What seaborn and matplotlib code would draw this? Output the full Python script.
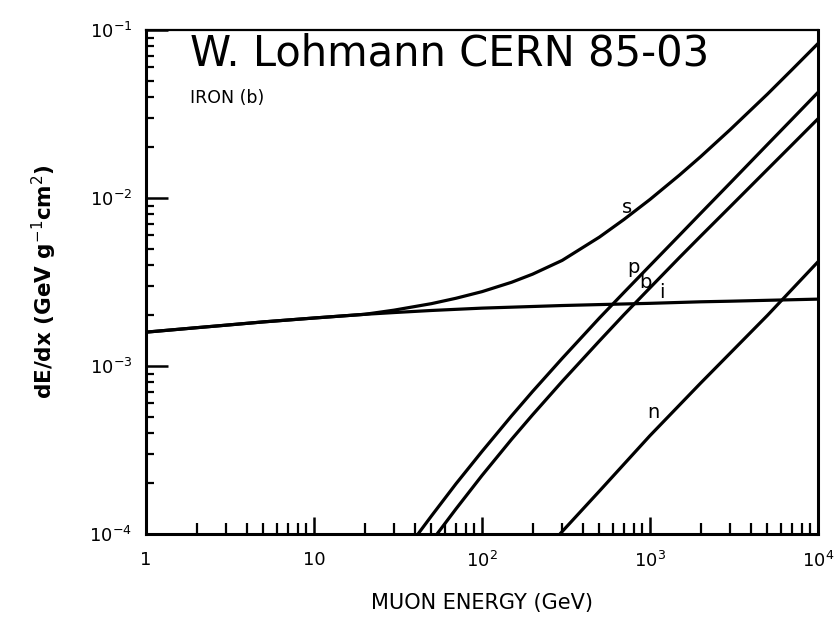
import numpy as np
import pandas as pd
import matplotlib
matplotlib.use("Agg")
import matplotlib.pyplot as plt
import seaborn as sns
from matplotlib.ticker import LogLocator, FixedLocator, FixedFormatter, NullFormatter

# Muon energy-loss components in iron (GeV g^-1 cm^2) versus muon energy (GeV)
ion_E = [1, 2, 3, 5, 10, 20, 30, 50, 100, 200, 300, 500, 1000, 2000, 3000, 5000, 10000]
ion_dEdx = [1.59e-3, 1.69e-3, 1.75e-3, 1.83e-3, 1.93e-3, 2.03e-3, 2.08e-3, 2.14e-3,
            2.21e-3, 2.26e-3, 2.29e-3, 2.32e-3, 2.36e-3, 2.41e-3, 2.43e-3, 2.46e-3, 2.50e-3]

tot_E = [1, 2, 3, 5, 10, 20, 30, 50, 70, 100, 150, 200, 300, 500, 700, 1000,
         1500, 2000, 3000, 5000, 7000, 10000]
tot_dEdx = [1.59e-3, 1.69e-3, 1.75e-3, 1.83e-3, 1.93e-3, 2.03e-3, 2.15e-3, 2.35e-3,
            2.53e-3, 2.77e-3, 3.15e-3, 3.52e-3, 4.25e-3, 5.85e-3, 7.45e-3, 9.8e-3,
            1.37e-2, 1.76e-2, 2.55e-2, 4.15e-2, 5.8e-2, 8.3e-2]

pair_E = [41.6, 50, 70, 100, 150, 200, 300, 500, 700, 1000, 1500, 2000, 3000,
          5000, 7000, 10000]
pair_dEdx = [1.0e-4, 1.28e-4, 1.99e-4, 3.10e-4, 5.05e-4, 7.05e-4, 1.109e-3, 1.93e-3,
             2.74e-3, 3.96e-3, 6.01e-3, 8.09e-3, 1.227e-2, 2.08e-2, 2.94e-2, 4.25e-2]

brems_E = [54, 70, 100, 150, 200, 300, 500, 700, 1000, 1500, 2000, 3000, 5000,
           7000, 10000]
brems_dEdx = [1.0e-4, 1.41e-4, 2.23e-4, 3.66e-4, 5.12e-4, 8.09e-4, 1.41e-3, 2.02e-3,
              2.92e-3, 4.43e-3, 5.92e-3, 8.87e-3, 1.479e-2, 2.07e-2, 2.96e-2]

nucl_E = [291, 500, 1000, 2000, 5000, 10000]
nucl_dEdx = [1.0e-4, 1.80e-4, 3.85e-4, 7.9e-4, 2.0e-3, 4.17e-3]

curve_names = ["s", "p", "b", "i", "n"]
label_E = [730, 792, 934, 1178, 1042]
label_dEdx = [8.83e-3, 3.88e-3, 3.16e-3, 2.72e-3, 5.25e-4]

x_ticks = [1, 10, 100, 1000, 10000]
x_ticklabels = ["1", "10", "$10^2$", "$10^3$", "$10^4$"]
y_ticks = [1e-4, 1e-3, 1e-2, 1e-1]
y_ticklabels = ["$10^{-4}$", "$10^{-3}$", "$10^{-2}$", "$10^{-1}$"]

frames = []
for name, E, v in [("s", tot_E, tot_dEdx), ("i", ion_E, ion_dEdx),
                   ("p", pair_E, pair_dEdx), ("b", brems_E, brems_dEdx),
                   ("n", nucl_E, nucl_dEdx)]:
    frames.append(pd.DataFrame({"E": E, "dEdx": v, "process": name}))
df = pd.concat(frames, ignore_index=True)

sns.set_style("ticks")
plt.rcParams["font.family"] = ["DejaVu Sans"]
plt.rcParams["mathtext.fontset"] = "dejavusans"
for key in ["text.color", "axes.labelcolor", "xtick.color", "ytick.color"]:
    plt.rcParams[key] = "black"

fig = plt.figure(figsize=(8.35, 6.22), dpi=100)
ax = fig.add_axes([0.1749, 0.1415, 0.8047, 0.8103])

sns.lineplot(data=df, x="E", y="dEdx", hue="process", units="process",
             estimator=None, sort=True, palette={k: "black" for k in curve_names},
             linewidth=2.3, legend=False, ax=ax)

ax.set_xscale("log")
ax.set_yscale("log")
ax.set_xlim(1, 1e4)
ax.set_ylim(1e-4, 1e-1)

for sp in ax.spines.values():
    sp.set_linewidth(2.2)
    sp.set_color("black")
ax.spines["top"].set_linewidth(1.6)

ax.xaxis.set_major_locator(FixedLocator(x_ticks))
ax.xaxis.set_major_formatter(FixedFormatter(x_ticklabels))
ax.xaxis.set_minor_locator(LogLocator(base=10, subs=np.arange(2, 10)))
ax.xaxis.set_minor_formatter(NullFormatter())
ax.yaxis.set_major_locator(FixedLocator(y_ticks))
ax.yaxis.set_major_formatter(FixedFormatter(y_ticklabels))
ax.yaxis.set_minor_locator(LogLocator(base=10, subs=np.arange(2, 10)))
ax.yaxis.set_minor_formatter(NullFormatter())

ax.tick_params(axis="x", which="major", direction="in", length=12, width=1.8,
               labelsize=13, pad=12, top=False)
ax.tick_params(axis="x", which="minor", direction="in", length=8, width=1.6, top=False)
ax.tick_params(axis="y", which="major", direction="in", length=16, width=1.8,
               labelsize=13, pad=10, right=False)
ax.tick_params(axis="y", which="minor", direction="in", length=6, width=1.6, right=False)

ax.set_xlabel("MUON ENERGY (GeV)", fontsize=15, labelpad=16)
ax.set_ylabel("dE/dx (GeV g$^{-1}$cm$^{2}$)", fontsize=15.5, labelpad=22,
              fontweight="bold")

for name, xe, yv in zip(curve_names, label_E, label_dEdx):
    ax.text(xe, yv, name, fontsize=14, ha="center", va="center")

ax.text(0.065, 0.865, "IRON (b)", transform=ax.transAxes, fontsize=12.5,
        ha="left", va="center")
ax.text(0.065, 0.953, "W. Lohmann CERN 85-03", transform=ax.transAxes,
        fontsize=30, family="DejaVu Sans", ha="left", va="center")

fig.savefig("out.png", dpi=100)
